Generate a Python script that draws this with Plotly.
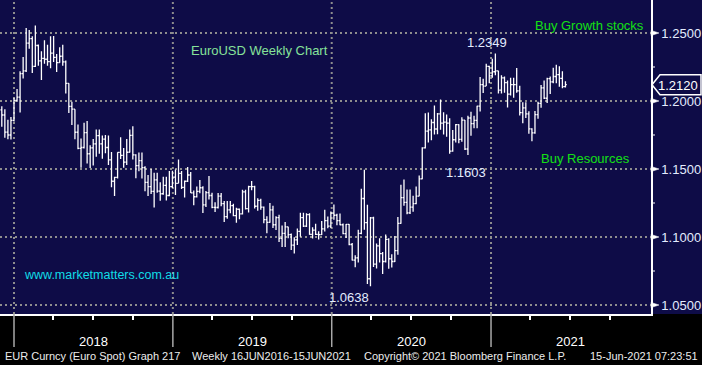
import plotly.graph_objects as go
import pandas as pd

# ---------------- data (weekly EURUSD, week starting 2017-11-27) ----------------
open_ = [1.1935, 1.1897, 1.1771, 1.1750, 1.1857,
         1.2005, 1.2029, 1.2201, 1.2221, 1.2426, 1.2459, 1.2254, 1.2408, 1.2295, 1.2313, 1.2307, 1.2289, 1.2352,
         1.2321, 1.2282, 1.2329, 1.2288, 1.2130, 1.1960, 1.1940, 1.1770, 1.1652, 1.1658, 1.1768, 1.1612, 1.1655,
         1.1684, 1.1745, 1.1685, 1.1720, 1.1658, 1.1567, 1.1410, 1.1438, 1.1622, 1.1600, 1.1550, 1.1623, 1.1747,
         1.1604, 1.1525, 1.1561, 1.1510, 1.1402, 1.1370, 1.1335, 1.1420, 1.1338, 1.1318, 1.1380, 1.1305, 1.1370, 1.1440,
         1.1395, 1.1468, 1.1365, 1.1410, 1.1456, 1.1325, 1.1296, 1.1335, 1.1362, 1.1236, 1.1326, 1.1305,
         1.1218, 1.1217, 1.1300, 1.1246, 1.1150, 1.1200, 1.1230, 1.1157, 1.1204, 1.1170, 1.1332, 1.1208, 1.1370,
         1.1370, 1.1226, 1.1270, 1.1220, 1.1127, 1.1107, 1.1200, 1.1090, 1.1143, 1.0990, 1.1027, 1.1075, 1.1017,
         1.0940, 1.0979, 1.1041, 1.1142, 1.1080, 1.1165, 1.1020, 1.1050, 1.1020, 1.1018, 1.1060, 1.1120, 1.1080, 1.1175,
         1.1160, 1.1120, 1.1090, 1.1025, 1.1093, 1.0945, 1.0830, 1.0847, 1.1026, 1.1283, 1.1105, 1.0693,
         1.1140, 1.0800, 1.0935, 1.0877, 1.0820, 1.0982, 1.0840, 1.0820, 1.0900, 1.1100, 1.1290, 1.1255, 1.1177,
         1.1220, 1.1245, 1.1300, 1.1428, 1.1655, 1.1778, 1.1787, 1.1842, 1.1794, 1.1905, 1.1838, 1.1845, 1.1838,
         1.1632, 1.1715, 1.1826, 1.1718, 1.1860, 1.1647, 1.1875, 1.1834, 1.1857, 1.1962, 1.2120, 1.2110, 1.2255, 1.2185,
         1.2215, 1.2222, 1.2080, 1.2170, 1.2135, 1.2050, 1.2120, 1.2120, 1.2075, 1.1915, 1.1950, 1.1905,
         1.1795, 1.1765, 1.1900, 1.1983, 1.2097, 1.2020, 1.2164, 1.2141, 1.2180, 1.2194, 1.2166, 1.2106]
high = [1.1961, 1.1940, 1.1863, 1.1882, 1.2023,
        1.2089, 1.2219, 1.2323, 1.2537, 1.2522, 1.2476, 1.2556, 1.2416, 1.2366, 1.2446, 1.2413, 1.2476, 1.2477,
        1.2345, 1.2396, 1.2414, 1.2297, 1.2131, 1.1995, 1.1939, 1.1827, 1.1724, 1.1840, 1.1852, 1.1675, 1.1720,
        1.1791, 1.1791, 1.1747, 1.1750, 1.1747, 1.1625, 1.1443, 1.1623, 1.1734, 1.1654, 1.1721, 1.1790, 1.1815,
        1.1609, 1.1622, 1.1621, 1.1520, 1.1456, 1.1500, 1.1472, 1.1472, 1.1402, 1.1443, 1.1443, 1.1486, 1.1488, 1.1497,
        1.1570, 1.1485, 1.1416, 1.1514, 1.1478, 1.1342, 1.1372, 1.1420, 1.1374, 1.1339, 1.1448, 1.1325,
        1.1255, 1.1324, 1.1323, 1.1265, 1.1265, 1.1264, 1.1245, 1.1215, 1.1210, 1.1347, 1.1348, 1.1377, 1.1412,
        1.1377, 1.1285, 1.1282, 1.1225, 1.1153, 1.1250, 1.1230, 1.1153, 1.1164, 1.1085, 1.1110, 1.1076, 1.1025,
        1.0999, 1.1063, 1.1179, 1.1179, 1.1175, 1.1175, 1.1072, 1.1097, 1.1043, 1.1117, 1.1200, 1.1150, 1.1188, 1.1239,
        1.1171, 1.1173, 1.1100, 1.1096, 1.1096, 1.0955, 1.0865, 1.1053, 1.1355, 1.1495, 1.1237, 1.1147,
        1.1148, 1.0953, 1.0990, 1.0890, 1.1019, 1.0990, 1.0874, 1.1008, 1.1147, 1.1384, 1.1422, 1.1350, 1.1349,
        1.1303, 1.1371, 1.1452, 1.1660, 1.1909, 1.1916, 1.1866, 1.1966, 1.1912, 1.2011, 1.1917, 1.1901, 1.1873,
        1.1787, 1.1831, 1.1829, 1.1880, 1.1860, 1.1891, 1.1920, 1.1891, 1.1965, 1.2177, 1.2163, 1.2273, 1.2260, 1.2310,
        1.2349, 1.2222, 1.2190, 1.2180, 1.2150, 1.2170, 1.2170, 1.2243, 1.2113, 1.1990, 1.1990, 1.1925,
        1.1800, 1.1927, 1.1995, 1.2117, 1.2150, 1.2170, 1.2181, 1.2245, 1.2266, 1.2255, 1.2218, 1.2145]
low = [1.1810, 1.1729, 1.1718, 1.1717, 1.1850,
       1.1995, 1.1916, 1.2165, 1.2214, 1.2385, 1.2206, 1.2250, 1.2260, 1.2155, 1.2274, 1.2259, 1.2240, 1.2286,
       1.2214, 1.2282, 1.2260, 1.2055, 1.1911, 1.1823, 1.1718, 1.1645, 1.1510, 1.1650, 1.1540, 1.1508, 1.1526,
       1.1590, 1.1613, 1.1575, 1.1615, 1.1530, 1.1365, 1.1301, 1.1430, 1.1573, 1.1510, 1.1530, 1.1622, 1.1570,
       1.1432, 1.1484, 1.1431, 1.1336, 1.1302, 1.1316, 1.1216, 1.1325, 1.1267, 1.1310, 1.1268, 1.1300, 1.1360, 1.1309,
       1.1395, 1.1353, 1.1290, 1.1405, 1.1323, 1.1234, 1.1290, 1.1321, 1.1176, 1.1221, 1.1275, 1.1212,
       1.1183, 1.1210, 1.1226, 1.1110, 1.1135, 1.1175, 1.1152, 1.1105, 1.1131, 1.1165, 1.1203, 1.1181, 1.1344,
       1.1209, 1.1193, 1.1200, 1.1101, 1.1027, 1.1105, 1.1066, 1.1052, 1.0964, 1.0926, 1.0927, 1.0990, 1.0905,
       1.0879, 1.0941, 1.1002, 1.1073, 1.1073, 1.1016, 1.0989, 1.1014, 1.0981, 1.1015, 1.1040, 1.1065, 1.1066, 1.1126,
       1.1086, 1.1086, 1.1020, 1.0992, 1.0940, 1.0827, 1.0778, 1.0812, 1.1020, 1.1054, 1.0654, 1.0638,
       1.0779, 1.0768, 1.0813, 1.0727, 1.0812, 1.0767, 1.0775, 1.0816, 1.0870, 1.1097, 1.1230, 1.1168, 1.1170,
       1.1185, 1.1240, 1.1300, 1.1425, 1.1650, 1.1695, 1.1712, 1.1754, 1.1755, 1.1789, 1.1753, 1.1737, 1.1612,
       1.1626, 1.1695, 1.1689, 1.1700, 1.1640, 1.1603, 1.1745, 1.1800, 1.1800, 1.1923, 1.2059, 1.2110, 1.2130, 1.2170,
       1.2190, 1.2055, 1.2055, 1.2060, 1.1952, 1.2040, 1.2024, 1.2060, 1.1893, 1.1836, 1.1875, 1.1760,
       1.1704, 1.1760, 1.1870, 1.1950, 1.2015, 1.1986, 1.2052, 1.2130, 1.2130, 1.2105, 1.2093, 1.2100]
close = [1.1897, 1.1771, 1.1750, 1.1857, 1.2005,
         1.2029, 1.2201, 1.2221, 1.2426, 1.2459, 1.2254, 1.2408, 1.2295, 1.2313, 1.2307, 1.2289, 1.2352, 1.2321,
         1.2282, 1.2329, 1.2288, 1.2130, 1.1960, 1.1940, 1.1770, 1.1652, 1.1658, 1.1768, 1.1612, 1.1655, 1.1684,
         1.1745, 1.1685, 1.1720, 1.1658, 1.1567, 1.1410, 1.1438, 1.1622, 1.1600, 1.1550, 1.1623, 1.1747, 1.1604,
         1.1525, 1.1561, 1.1510, 1.1402, 1.1370, 1.1335, 1.1420, 1.1338, 1.1318, 1.1380, 1.1305, 1.1370, 1.1440, 1.1395,
         1.1468, 1.1365, 1.1410, 1.1456, 1.1325, 1.1296, 1.1335, 1.1362, 1.1236, 1.1326, 1.1305, 1.1218,
         1.1217, 1.1300, 1.1246, 1.1150, 1.1200, 1.1230, 1.1157, 1.1204, 1.1170, 1.1332, 1.1208, 1.1370, 1.1370,
         1.1226, 1.1270, 1.1220, 1.1127, 1.1107, 1.1200, 1.1090, 1.1143, 1.0990, 1.1027, 1.1075, 1.1017, 1.0940,
         1.0979, 1.1041, 1.1142, 1.1080, 1.1165, 1.1020, 1.1050, 1.1020, 1.1018, 1.1060, 1.1120, 1.1080, 1.1175, 1.1160,
         1.1120, 1.1090, 1.1025, 1.1093, 1.0945, 1.0830, 1.0847, 1.1026, 1.1283, 1.1105, 1.0693, 1.1140,
         1.0800, 1.0935, 1.0877, 1.0820, 1.0982, 1.0840, 1.0820, 1.0900, 1.1100, 1.1290, 1.1255, 1.1177, 1.1220,
         1.1245, 1.1300, 1.1428, 1.1655, 1.1778, 1.1787, 1.1842, 1.1794, 1.1905, 1.1838, 1.1845, 1.1838, 1.1632,
         1.1715, 1.1826, 1.1718, 1.1860, 1.1647, 1.1875, 1.1834, 1.1857, 1.1962, 1.2120, 1.2110, 1.2255, 1.2185, 1.2215,
         1.2222, 1.2080, 1.2170, 1.2135, 1.2050, 1.2120, 1.2120, 1.2075, 1.1915, 1.1950, 1.1905, 1.1795,
         1.1765, 1.1900, 1.1983, 1.2097, 1.2020, 1.2164, 1.2141, 1.2180, 1.2194, 1.2166, 1.2106, 1.2120]

# bars are plotted at the end of their week
dates = pd.date_range("2017-12-04", periods=len(close), freq="7D")

year_starts = ["2018-01-01", "2019-01-01", "2020-01-01", "2021-01-01"]
year_mids = ["2018-07-02", "2019-07-02", "2020-07-02", "2021-07-02"]
year_labels = ["2018", "2019", "2020", "2021"]
quarter_ticks = ["2018-04-01", "2018-07-01", "2018-10-01",
                 "2019-04-01", "2019-07-01", "2019-10-01",
                 "2020-04-01", "2020-07-01", "2020-10-01",
                 "2021-04-01", "2021-07-01", "2021-10-01"]
y_major = [1.05, 1.10, 1.15, 1.20, 1.25]
y_minor = [1.075, 1.125, 1.175, 1.225]

NAVY = "#0e0c47"
W, H = 702, 365
ML, MR, MT, MB = 0, 51, 0, 51
PW, PH = W - ML - MR, H - MT - MB
Y0, Y1 = 1.04338, 1.27426
ppx = (Y1 - Y0) / PH  # data units per pixel


def px(xp):
    return xp / PW


def py(yp):
    return (PH - yp) / PH


fig = go.Figure()
fig.add_trace(go.Ohlc(
    x=dates, open=open_, high=high, low=low, close=close,
    increasing=dict(line=dict(color="white", width=1.3)),
    decreasing=dict(line=dict(color="white", width=1.3)),
    tickwidth=0.45, hoverinfo="skip", showlegend=False,
))

shapes = []
# right-hand panel background
shapes.append(dict(type="rect", xref="paper", yref="paper", x0=1, x1=W / PW, y0=0, y1=1,
                   fillcolor=NAVY, line=dict(width=0), layer="below"))
# vertical year gridlines (dotted inside plot, solid in the axis band)
for d in year_starts:
    shapes.append(dict(type="line", xref="x", yref="paper", x0=d, x1=d, y0=0, y1=1,
                       line=dict(color="#8e8e8e", width=2, dash="2px,3px"), layer="below"))
    shapes.append(dict(type="line", xref="x", yref="paper", x0=d, x1=d, y0=0, y1=py(347),
                       line=dict(color="#a8a8a8", width=1.5), layer="above"))
# arrow markers at major y ticks
for v in y_major:
    shapes.append(dict(type="path", xref="paper", yref="y",
                       path=f"M 1.0,{v - 2.6 * ppx} L {px(PW + 8)},{v} L 1.0,{v + 2.6 * ppx} Z",
                       fillcolor="white", line=dict(color="white", width=0.5), layer="above"))
# minor y ticks
for v in y_minor:
    shapes.append(dict(type="line", xref="paper", yref="y", x0=1.0, x1=px(PW + 4), y0=v, y1=v,
                       line=dict(color="white", width=1), layer="above"))
# last price tag
last = close[-1]
hh = 10 * ppx
shapes.append(dict(type="path", xref="paper", yref="y",
                   path=(f"M {px(PW + 1)},{last} L {px(PW + 9)},{last + hh} L {px(W - 1)},{last + hh} "
                         f"L {px(W - 1)},{last - hh} L {px(PW + 9)},{last - hh} Z"),
                   fillcolor=NAVY, line=dict(color="white", width=1.5), layer="above"))

LBL = "#e4ecff"
annotations = []


def ann(text, x, y, color, size=13, xanchor="left", xref="paper"):
    annotations.append(dict(text=text, x=x, y=y, xref=xref, yref="paper", xanchor=xanchor,
                            yanchor="middle", showarrow=False,
                            font=dict(color=color, size=size, family="Liberation Sans, Arial, sans-serif")))


ann(f"{last:.4f}", px(678), py(85), "white", xanchor="center")
ann("EuroUSD Weekly Chart", px(189), py(51), "#86e29a")
ann("Buy Growth stocks", px(533), py(26), "#14e014")
ann("Buy Resources", px(539), py(158), "#14e014")
ann("www.marketmatters.com.au", px(22), py(275), "#10dce6", size=12.5)
ann(f"{max(high[150:]):.4f}", px(487), py(43), LBL, xanchor="center")
ann(f"{min(low[150:]):.4f}", px(466), py(172), LBL, xanchor="center")
ann(f"{min(low):.4f}", px(349), py(297), LBL, xanchor="center")
for d, t in zip(year_mids, year_labels):
    ann(t, d, py(341), "white", xanchor="center", xref="x")
ann("EUR Curncy (Euro Spot) Graph 217", px(3), py(356), "#ececec", size=11)
ann("Weekly 16JUN2016-15JUN2021", px(190), py(356), "#ececec", size=11)
ann("Copyright\u00a9 2021 Bloomberg Finance L.P.", px(362), py(356), "#ececec", size=11)
ann("15-Jun-2021 07:23:51", px(700), py(356), "#ececec", size=11, xanchor="right")

fig.update_layout(
    width=W, height=H,
    margin=dict(l=ML, r=MR, t=MT, b=MB, pad=0),
    paper_bgcolor="black", plot_bgcolor=NAVY,
    showlegend=False,
    shapes=shapes, annotations=annotations,
    xaxis=dict(type="date", range=["2017-11-29 20:00", "2022-01-03 14:00"],
               tickvals=quarter_ticks, ticks="outside", ticklen=4, tickwidth=1.5, tickcolor="white",
               showticklabels=False, showgrid=False, zeroline=False,
               showline=True, linecolor="white", linewidth=1.5,
               rangeslider=dict(visible=False), fixedrange=True),
    yaxis=dict(side="right", range=[Y0, Y1],
               tickvals=y_major, ticktext=[f"{v:.4f}" for v in y_major],
               ticks="outside", ticklen=6, tickcolor="rgba(0,0,0,0)",
               tickfont=dict(color=LBL, size=13, family="Liberation Sans, Arial, sans-serif"),
               showgrid=True, gridcolor="#8e8e8e", gridwidth=2, griddash="2px,3px",
               zeroline=False, showline=True, linecolor="white", linewidth=1.5, fixedrange=True),
)

fig.write_html("out.html", config={"displayModeBar": False},
               post_script="document.body.style.margin='0';document.body.style.overflow='hidden';")
